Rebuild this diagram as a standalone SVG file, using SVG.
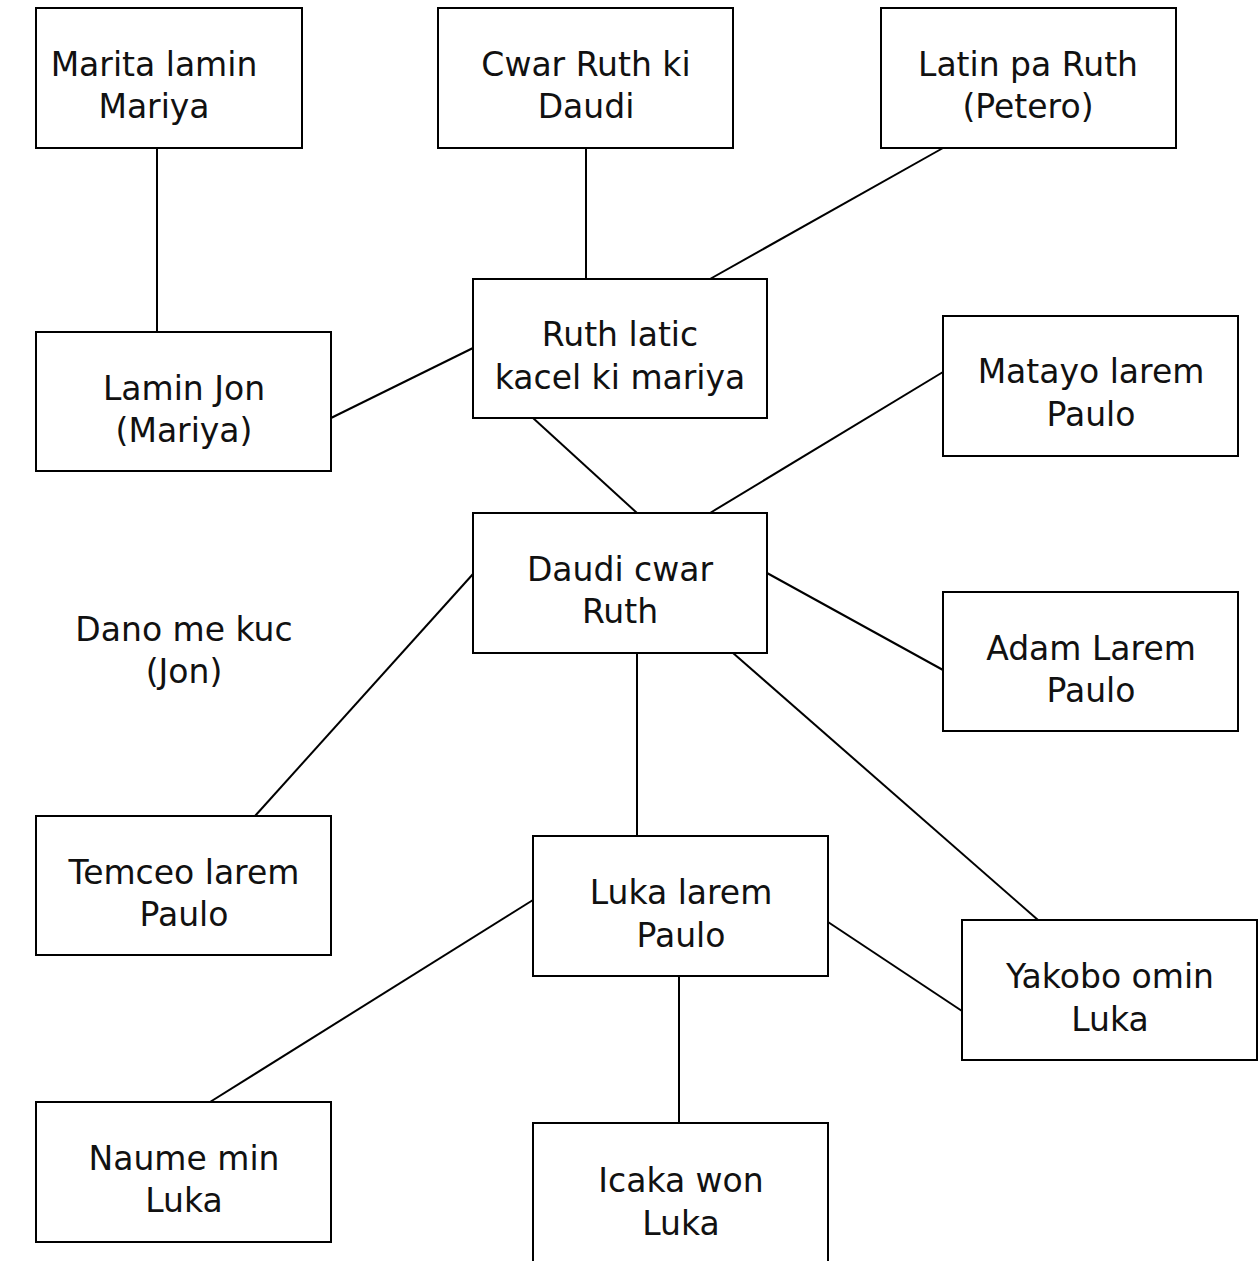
<svg xmlns="http://www.w3.org/2000/svg" width="1258" height="1261" viewBox="0 0 1258 1261">
<style>
  .box { fill: #ffffff; stroke: #000000; stroke-width: 2; }
  .edge { stroke: #000000; stroke-width: 2; fill: none; }
  .lbl { font-family: "DejaVu Sans", "Liberation Sans", sans-serif; font-size: 33px; fill: #111111; text-anchor: middle; }
</style>
<rect x="0" y="0" width="1258" height="1261" fill="#ffffff"/>
<g id="connectors">
  <line class="edge" x1="157" y1="148" x2="157" y2="332"/>
  <line class="edge" x1="586" y1="148" x2="586" y2="279"/>
  <line class="edge" x1="943" y1="148" x2="710" y2="279"/>
  <line class="edge" x1="331" y1="418" x2="473" y2="348"/>
  <line class="edge" x1="533" y1="418" x2="637" y2="513"/>
  <line class="edge" x1="943" y1="372" x2="710" y2="513"/>
  <line class="edge" x1="473" y1="574" x2="255" y2="816"/>
  <line class="edge" x1="767" y1="573" x2="943" y2="670"/>
  <line class="edge" x1="637" y1="653" x2="637" y2="836"/>
  <line class="edge" x1="733" y1="653" x2="1038" y2="920"/>
  <line class="edge" x1="533" y1="900" x2="210" y2="1102"/>
  <line class="edge" x1="828" y1="922" x2="962" y2="1011"/>
  <line class="edge" x1="679" y1="976" x2="679" y2="1123"/>
</g>
<g id="n-marita">
  <rect class="box" x="36" y="8" width="266" height="140"/>
  <text class="lbl" x="154" y="76">Marita lamin</text>
  <text class="lbl" x="154" y="118">Mariya</text>
</g>
<g id="n-cwar">
  <rect class="box" x="438" y="8" width="295" height="140"/>
  <text class="lbl" x="586" y="76">Cwar Ruth ki</text>
  <text class="lbl" x="586" y="118">Daudi</text>
</g>
<g id="n-latin">
  <rect class="box" x="881" y="8" width="295" height="140"/>
  <text class="lbl" x="1028" y="76">Latin pa Ruth</text>
  <text class="lbl" x="1028" y="118">(Petero)</text>
</g>
<g id="n-lamin">
  <rect class="box" x="36" y="332" width="295" height="139"/>
  <text class="lbl" x="184" y="400">Lamin Jon</text>
  <text class="lbl" x="184" y="442">(Mariya)</text>
</g>
<g id="n-ruth">
  <rect class="box" x="473" y="279" width="294" height="139"/>
  <text class="lbl" x="620" y="346">Ruth latic</text>
  <text class="lbl" x="620" y="389">kacel ki mariya</text>
</g>
<g id="n-matayo">
  <rect class="box" x="943" y="316" width="295" height="140"/>
  <text class="lbl" x="1091" y="383">Matayo larem</text>
  <text class="lbl" x="1091" y="426">Paulo</text>
</g>
<g id="n-daudi">
  <rect class="box" x="473" y="513" width="294" height="140"/>
  <text class="lbl" x="620" y="581">Daudi cwar</text>
  <text class="lbl" x="620" y="623">Ruth</text>
</g>
<g id="n-dano">
  <text class="lbl" x="184" y="641">Dano me kuc</text>
  <text class="lbl" x="184" y="683">(Jon)</text>
</g>
<g id="n-adam">
  <rect class="box" x="943" y="592" width="295" height="139"/>
  <text class="lbl" x="1091" y="660">Adam Larem</text>
  <text class="lbl" x="1091" y="702">Paulo</text>
</g>
<g id="n-temceo">
  <rect class="box" x="36" y="816" width="295" height="139"/>
  <text class="lbl" x="184" y="884">Temceo larem</text>
  <text class="lbl" x="184" y="926">Paulo</text>
</g>
<g id="n-luka">
  <rect class="box" x="533" y="836" width="295" height="140"/>
  <text class="lbl" x="681" y="904">Luka larem</text>
  <text class="lbl" x="681" y="947">Paulo</text>
</g>
<g id="n-yakobo">
  <rect class="box" x="962" y="920" width="295" height="140"/>
  <text class="lbl" x="1110" y="988">Yakobo omin</text>
  <text class="lbl" x="1110" y="1031">Luka</text>
</g>
<g id="n-naume">
  <rect class="box" x="36" y="1102" width="295" height="140"/>
  <text class="lbl" x="184" y="1170">Naume min</text>
  <text class="lbl" x="184" y="1212">Luka</text>
</g>
<g id="n-icaka">
  <rect class="box" x="533" y="1123" width="295" height="160"/>
  <text class="lbl" x="681" y="1192">Icaka won</text>
  <text class="lbl" x="681" y="1235">Luka</text>
</g>
</svg>
